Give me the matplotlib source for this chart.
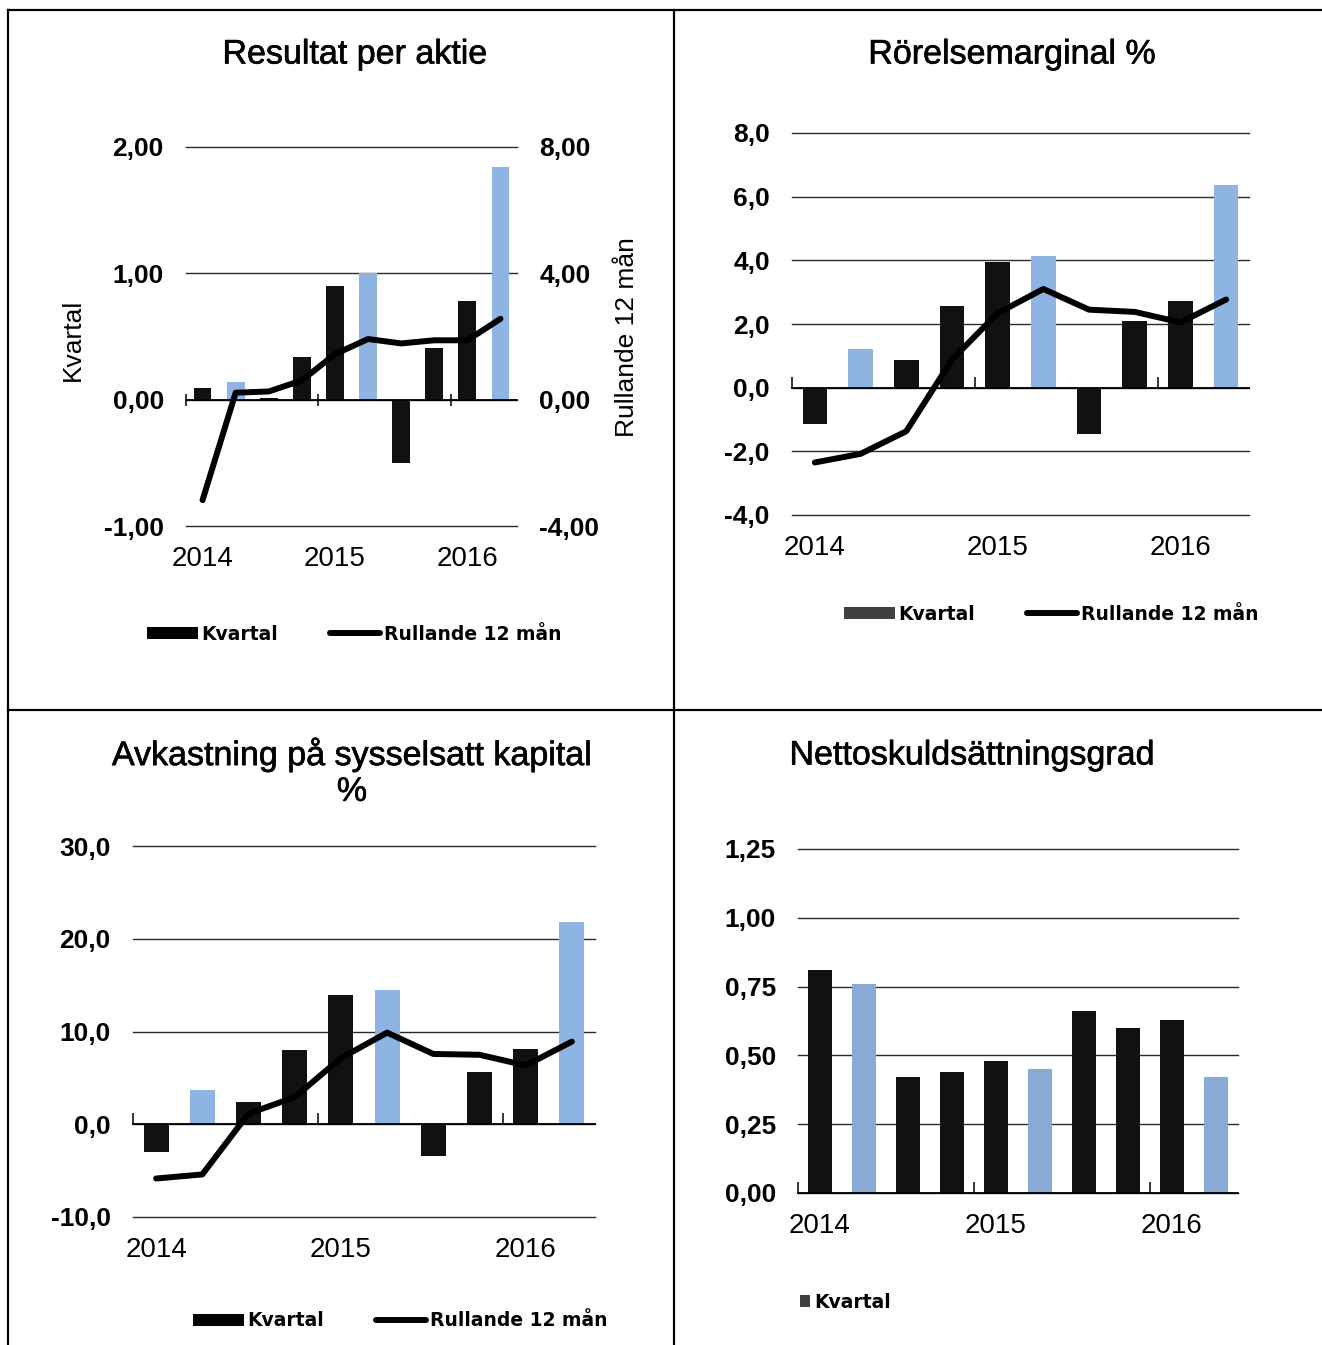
import matplotlib
matplotlib.use('Agg')
import matplotlib.pyplot as plt
import matplotlib.patheffects as pe
from matplotlib.lines import Line2D
from matplotlib.patches import Patch

# data (10 quarters, Q1 2014 .. Q2 2016)
quarters = ['Q1-14', 'Q2-14', 'Q3-14', 'Q4-14', 'Q1-15', 'Q2-15', 'Q3-15', 'Q4-15', 'Q1-16', 'Q2-16']
highlight = [False, True, False, False, False, True, False, False, False, True]
years = ['2014', '2015', '2016']
year_pos = [0, 4, 8]

eps_q = [0.09, 0.14, 0.01, 0.34, 0.90, 1.00, -0.50, 0.41, 0.78, 1.84]
eps_r12 = [-3.18, 0.22, 0.26, 0.61, 1.44, 1.92, 1.78, 1.88, 1.88, 2.56]
margin_q = [-1.14, 1.20, 0.86, 2.57, 3.94, 4.14, -1.47, 2.08, 2.72, 6.36]
margin_r12 = [-2.35, -2.08, -1.37, 0.88, 2.34, 3.10, 2.45, 2.38, 2.05, 2.77]
roce_q = [-2.97, 3.72, 2.35, 8.02, 13.96, 14.49, -3.41, 5.67, 8.15, 21.84]
roce_r12 = [-5.85, -5.41, 1.15, 2.92, 7.13, 9.88, 7.58, 7.49, 6.34, 8.91]
gear_q = [0.81, 0.76, 0.42, 0.44, 0.48, 0.45, 0.66, 0.60, 0.63, 0.42]

eps_ticks = [-1, 0, 1, 2]
eps_labels = ['-1,00', '0,00', '1,00', '2,00']
eps_r_ticks = [-4, 0, 4, 8]
eps_r_labels = ['-4,00', '0,00', '4,00', '8,00']
margin_ticks = [-4, -2, 0, 2, 4, 6, 8]
margin_labels = ['-4,0', '-2,0', '0,0', '2,0', '4,0', '6,0', '8,0']
roce_ticks = [-10, 0, 10, 20, 30]
roce_labels = ['-10,0', '0,0', '10,0', '20,0', '30,0']
gear_ticks = [0, 0.25, 0.5, 0.75, 1.0, 1.25]
gear_labels = ['0,00', '0,25', '0,50', '0,75', '1,00', '1,25']

BLUE = '#8DB4E2'
BLUE2 = '#89A9D8'
DARK = '#111111'
W, H = 1322, 1345

fig = plt.figure(figsize=(W / 100, H / 100), dpi=100)
fig.patch.set_facecolor('white')
SANS = 'Liberation Sans'
heavy = [pe.withStroke(linewidth=0.45, foreground='black')]


def fx(px):
    return px / W


def fy(px):
    return 1 - px / H


def make_ax(left, top, right, bottom):
    return fig.add_axes([fx(left), fy(bottom), fx(right - left), (bottom - top) / H])


def style(ax, ylim, ticks, labels, tickdir):
    ax.set_xlim(-0.5, len(quarters) - 0.5)
    ax.set_ylim(ylim)
    ax.set_yticks(ticks, labels=labels, fontweight='bold', fontsize=19, family=SANS)
    ax.tick_params(axis='y', length=0, pad=16)
    for s in ['top', 'right', 'left']:
        ax.spines[s].set_visible(False)
    ax.spines['bottom'].set_position(('data', 0))
    ax.spines['bottom'].set_linewidth(1.3)
    ax.set_xticks([-0.5, 3.5, 7.5])
    ax.tick_params(axis='x', direction=tickdir, length=8, width=1.1, labelbottom=False)
    ax.grid(axis='y', color='#2a2a2a', lw=1.0)
    for g in ax.yaxis.get_gridlines():
        g.set_clip_on(False)
    ax.set_axisbelow(True)
    for pos, yr in zip(year_pos, years):
        ax.annotate(yr, xy=(pos, 0), xycoords=('data', 'axes fraction'),
                    xytext=(0, -24), textcoords='offset points',
                    ha='center', va='center', fontsize=20, family=SANS)


def bars(ax, vals, blue):
    cols = [blue if h else DARK for h in highlight]
    ax.bar(range(len(vals)), vals, width=0.54, color=cols, zorder=2)


def r12_line(ax, vals):
    ax.plot(range(len(vals)), vals, color='black', lw=4.3,
            solid_capstyle='round', solid_joinstyle='round', zorder=4)


def title(x, y, txt):
    fig.text(fx(x), fy(y), txt, ha='center', va='center', fontsize=24.5,
             family=SANS, linespacing=1.2, path_effects=heavy)


def legend(x, y, patch_col, with_line=True, hl=2.7):
    handles = [Patch(facecolor=patch_col, edgecolor='none')]
    labels = ['Kvartal']
    if with_line:
        handles.append(Line2D([], [], color='black', lw=4.3, solid_capstyle='round'))
        labels.append('Rullande 12 mån')
    fig.legend(handles, labels, loc='center left', bbox_to_anchor=(fx(x), fy(y)),
               ncol=2, frameon=False, borderpad=0, borderaxespad=0,
               handlelength=hl, handleheight=0.55, handletextpad=0.2,
               columnspacing=2.75,
               prop={'family': 'DejaVu Sans', 'weight': 'bold', 'size': 13.5})


# panel 1: Resultat per aktie
ax1 = make_ax(186, 147, 517, 526)
style(ax1, (-1, 2), eps_ticks, eps_labels, 'inout')
bars(ax1, eps_q, BLUE)
ax1b = ax1.twinx()
ax1b.set_ylim(-4, 8)
ax1b.set_yticks(eps_r_ticks, labels=eps_r_labels, fontweight='bold', fontsize=19, family=SANS)
ax1b.tick_params(axis='y', length=0, pad=16)
for s in ax1b.spines.values():
    s.set_visible(False)
r12_line(ax1b, eps_r12)
title(355, 55, 'Resultat per aktie')
fig.text(fx(73), fy(340), 'Kvartal', rotation=90, ha='center', va='center',
         fontsize=19, family=SANS)
fig.text(fx(627), fy(337), 'Rullande 12 mån', rotation=90, ha='center', va='center',
         fontsize=19, family=SANS)
legend(147, 634, 'black')

# panel 2: Rörelsemarginal %
ax2 = make_ax(792, 133, 1249, 515)
style(ax2, (-4, 8), margin_ticks, margin_labels, 'in')
bars(ax2, margin_q, BLUE)
r12_line(ax2, margin_r12)
title(1012, 55, 'Rörelsemarginal %')
legend(844, 614, '#404040')

# panel 3: Avkastning på sysselsatt kapital %
ax3 = make_ax(133, 846, 595, 1217)
style(ax3, (-10, 30), roce_ticks, roce_labels, 'in')
bars(ax3, roce_q, BLUE)
r12_line(ax3, roce_r12)
title(352, 773, 'Avkastning på sysselsatt kapital\n%')
legend(193, 1321, 'black')

# panel 4: Nettoskuldsättningsgrad
ax4 = make_ax(798, 849, 1238, 1193)
style(ax4, (0, 1.25), gear_ticks, gear_labels, 'in')
bars(ax4, gear_q, BLUE2)
title(972, 756, 'Nettoskuldsättningsgrad')
legend(800, 1302, '#404040', with_line=False, hl=0.55)

# table borders round the four panels
for xs, ys in [([8, W], [10, 10]), ([8, W], [710, 710]),
               ([8, 8], [10, H]), ([674, 674], [10, H])]:
    fig.add_artist(Line2D([fx(v) for v in xs], [fy(v) for v in ys],
                          transform=fig.transFigure, color='black', lw=1.6))

fig.savefig('out.png', dpi=100)
